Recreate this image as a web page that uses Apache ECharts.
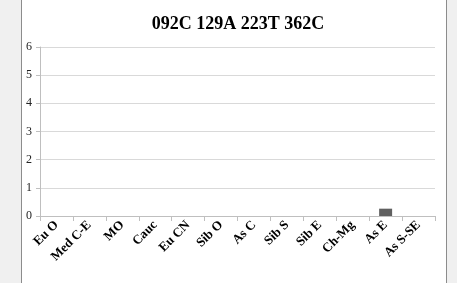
<!DOCTYPE html>
<html>
<head>
<meta charset="utf-8">
<script src="https://cdn.jsdelivr.net/npm/echarts@6/dist/echarts.min.js"></script>
<style>
  html, body { margin: 0; padding: 0; background: #f0f0f0; }
  #panel { position: absolute; left: 21px; top: 0; width: 424px; height: 283px;
           background: #fff; border-left: 1px solid #8c8c8c; border-right: 1px solid #8c8c8c; }
  #chart { position: absolute; left: 0; top: 0; width: 457px; height: 283px; }
</style>
</head>
<body>
<div id="panel"></div>
<div id="chart"></div>
<script>
// 地区
var categories = ['Eu O', 'Med C-E', 'MO', 'Cauc', 'Eu CN', 'Sib O', 'As C', 'Sib S', 'Sib E', 'Ch-Mg', 'As E', 'As S-SE'];
// 频率
var values = [0, 0, 0, 0, 0, 0, 0, 0, 0, 0, 0.26, 0];
var yTicks = [0, 1, 2, 3, 4, 5, 6];

var chart = echarts.init(document.getElementById('chart'));
var option = {
  animation: false,
  title: {
    text: '092C 129A 223T 362C',
    left: 233,
    top: 10,
    textAlign: 'center',
    textStyle: { fontFamily: 'Liberation Serif', fontWeight: 'bold', fontSize: 18, color: '#000' }
  },
  grid: { left: 40, right: 22, top: 47, bottom: 67, containLabel: false },
  xAxis: {
    type: 'category',
    data: categories,
    axisLine: { lineStyle: { color: '#bfbfbf' } },
    axisTick: { show: true, alignWithLabel: false, length: 5, lineStyle: { color: '#bfbfbf' } },
    axisLabel: {
      rotate: 45, interval: 0, margin: 7,
      fontFamily: 'Liberation Serif', fontWeight: 'bold', fontSize: 13, color: '#000'
    }
  },
  yAxis: {
    type: 'value',
    min: yTicks[0],
    max: yTicks[yTicks.length - 1],
    interval: 1,
    axisLine: { show: true, lineStyle: { color: '#bfbfbf' } },
    axisTick: { show: true, length: 4, lineStyle: { color: '#bfbfbf' } },
    splitLine: { lineStyle: { color: '#d9d9d9' } },
    axisLabel: { margin: 8, fontFamily: 'Liberation Serif', fontSize: 12, color: '#222' }
  },
  series: [{
    type: 'bar',
    data: values,
    barWidth: 13,
    itemStyle: { color: '#606060' }
  }]
};
chart.setOption(option);
</script>
</body>
</html>
